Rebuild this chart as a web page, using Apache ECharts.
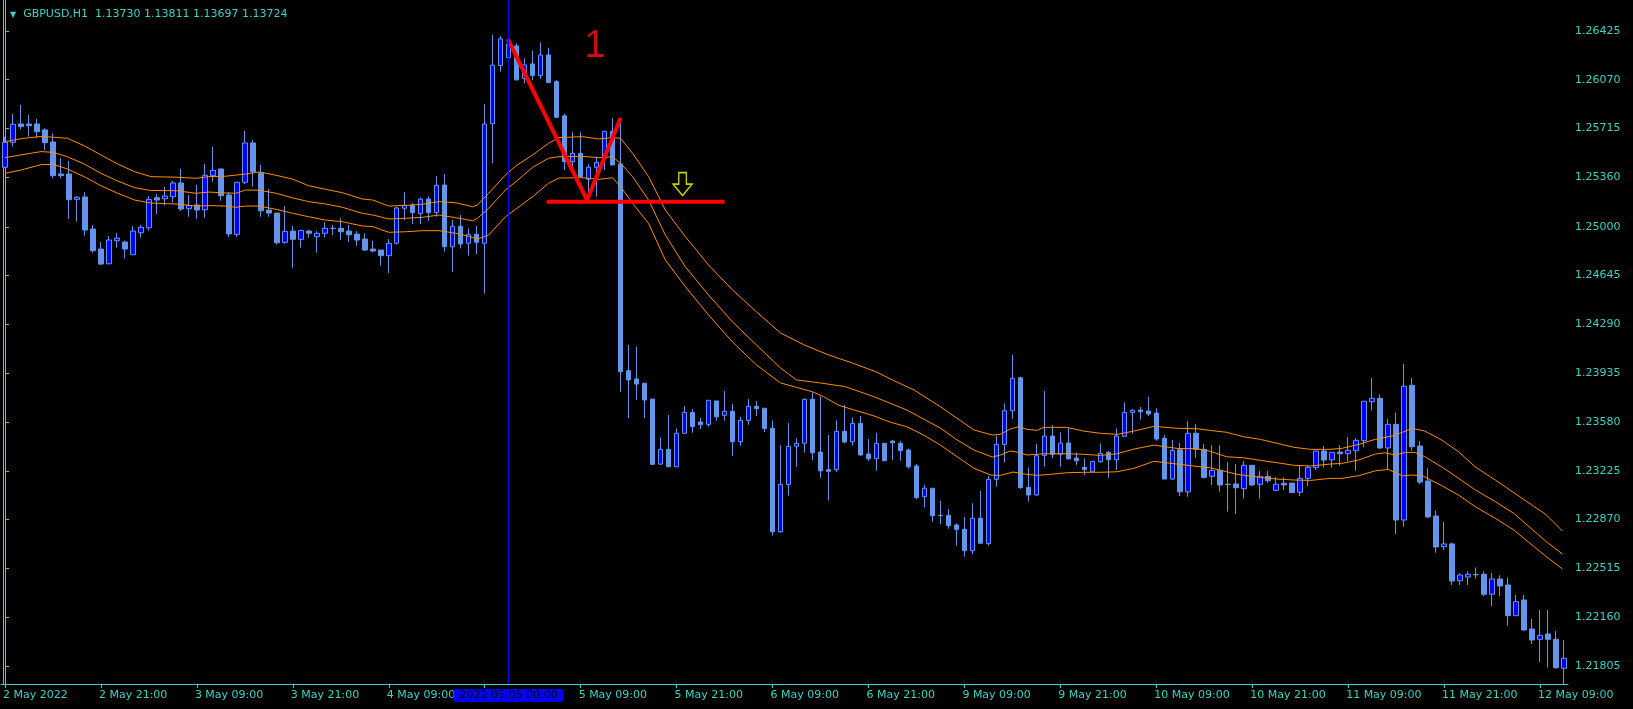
<!DOCTYPE html>
<html><head><meta charset="utf-8">
<script src="https://cdn.jsdelivr.net/npm/echarts@6.0.0/dist/echarts.min.js"></script>
<style>html,body{margin:0;padding:0;background:#000;}#c{width:1633px;height:709px;}</style>
</head><body><div id="c"></div>
<script>
// ---- time axis ----
const dayLabels = ['2 May','3 May','4 May','5 May','6 May','9 May','10 May','11 May','12 May'];
const dayStamps = ['2022.05.02','2022.05.03','2022.05.04','2022.05.05','2022.05.06','2022.05.09','2022.05.10','2022.05.11','2022.05.12'];
const firstHour = 9, lastHour = 12;
const firstLabel = '2 May 2022';
const crossIndex = 63;

// ---- candles (GBPUSD H1) ----
const openP = [1.25433,1.25615,1.25748,1.25748,1.25748,1.25705,1.25617,1.25384,1.25384,1.25200,1.25217,1.24984,1.24838,1.24731,1.24899,1.24889,1.24797,1.24957,1.24993,1.25212,1.25204,1.25219,1.25319,1.25132,1.25159,1.25124,1.25372,1.25421,1.25231,1.24945,1.25324,1.25610,1.25392,1.25122,1.25100,1.24887,1.24969,1.24909,1.24969,1.24928,1.24953,1.24989,1.24989,1.24969,1.24947,1.24911,1.24838,1.24831,1.24790,1.24880,1.25135,1.25156,1.25096,1.25202,1.25103,1.25304,1.24855,1.25004,1.24880,1.24945,1.24880,1.25750,1.26173,1.26231,1.26316,1.26081,1.26185,1.26100,1.26250,1.26056,1.25807,1.25474,1.25535,1.25346,1.25433,1.25499,1.25695,1.25457,1.23953,1.23893,1.23862,1.23747,1.23274,1.23381,1.23254,1.23498,1.23650,1.23580,1.23563,1.23733,1.23629,1.23658,1.23436,1.23592,1.23694,1.23680,1.23534,1.22782,1.23126,1.23403,1.23425,1.23745,1.23361,1.23233,1.23233,1.23512,1.23436,1.23570,1.23347,1.23313,1.23425,1.23441,1.23425,1.23376,1.23260,1.23037,1.23098,1.22901,1.22901,1.22831,1.22799,1.22644,1.22880,1.22695,1.23163,1.23417,1.23662,1.23902,1.23105,1.23049,1.23337,1.23478,1.23345,1.23427,1.23318,1.23250,1.23218,1.23291,1.23359,1.23305,1.23476,1.23650,1.23667,1.23660,1.23645,1.23461,1.23165,1.23378,1.23072,1.23498,1.23381,1.23185,1.23228,1.23127,1.23129,1.23095,1.23265,1.23127,1.23185,1.23083,1.23134,1.23136,1.23069,1.23170,1.23248,1.23369,1.23305,1.23361,1.23349,1.23371,1.23444,1.23728,1.23752,1.23391,1.23563,1.22867,1.23847,1.23405,1.23151,1.22896,1.22673,1.22693,1.22425,1.22452,1.22470,1.22472,1.22327,1.22438,1.22394,1.22171,1.22285,1.22074,1.21999,1.22038,1.21999,1.21788];
const closeP = [1.25615,1.25746,1.25729,1.25736,1.25692,1.25612,1.25372,1.25372,1.25197,1.25215,1.24977,1.24826,1.24729,1.24904,1.24918,1.24838,1.24969,1.24996,1.25200,1.25195,1.25224,1.25319,1.25129,1.25156,1.25122,1.25375,1.25411,1.25226,1.24948,1.25324,1.25610,1.25401,1.25117,1.25100,1.24884,1.24967,1.24909,1.24974,1.24953,1.24953,1.24989,1.24988,1.24964,1.24942,1.24904,1.24831,1.24824,1.24790,1.24880,1.25137,1.25156,1.25103,1.25202,1.25103,1.25302,1.24855,1.25004,1.24875,1.24945,1.24887,1.25748,1.26176,1.26367,1.26328,1.26069,1.26178,1.26100,1.26250,1.26049,1.25797,1.25474,1.25535,1.25365,1.25433,1.25469,1.25695,1.25450,1.23946,1.23886,1.23856,1.23740,1.23272,1.23381,1.23254,1.23498,1.23650,1.23546,1.23560,1.23738,1.23618,1.23658,1.23436,1.23592,1.23694,1.23677,1.23532,1.22782,1.23126,1.23403,1.23425,1.23745,1.23356,1.23225,1.23221,1.23512,1.23434,1.23570,1.23340,1.23313,1.23425,1.23298,1.23429,1.23371,1.23254,1.23030,1.23098,1.22898,1.22900,1.22826,1.22799,1.22644,1.22880,1.22698,1.23163,1.23417,1.23662,1.23898,1.23103,1.23049,1.23335,1.23478,1.23345,1.23427,1.23311,1.23298,1.23233,1.23294,1.23352,1.23305,1.23478,1.23650,1.23665,1.23655,1.23638,1.23456,1.23165,1.23374,1.23072,1.23498,1.23381,1.23177,1.23228,1.23122,1.23125,1.23102,1.23265,1.23122,1.23185,1.23153,1.23127,1.23122,1.23066,1.23170,1.23250,1.23369,1.23303,1.23359,1.23349,1.23374,1.23447,1.23731,1.23752,1.23391,1.23563,1.22867,1.23840,1.23400,1.23143,1.22889,1.22671,1.22693,1.22423,1.22467,1.22472,1.22469,1.22327,1.22438,1.22387,1.22171,1.22273,1.22067,1.21994,1.22028,1.21999,1.21793,1.21861];
const lowP = [1.25428,1.25583,1.25710,1.25656,1.25646,1.25559,1.25353,1.25353,1.25057,1.25037,1.24935,1.24811,1.24722,1.24728,1.24848,1.24768,1.24795,1.24921,1.24972,1.25093,1.25156,1.25175,1.25115,1.25073,1.25057,1.25066,1.25328,1.25190,1.24926,1.24926,1.25311,1.25292,1.25073,1.25073,1.24872,1.24877,1.24702,1.24848,1.24921,1.24811,1.24923,1.24940,1.24904,1.24889,1.24860,1.24824,1.24814,1.24717,1.24664,1.24872,1.25049,1.25020,1.25020,1.25044,1.25073,1.24819,1.24673,1.24843,1.24790,1.24802,1.24514,1.25462,1.26129,1.26214,1.26064,1.26044,1.26069,1.26076,1.26049,1.25790,1.25413,1.25413,1.25365,1.25219,1.25219,1.25413,1.25450,1.23800,1.23607,1.23740,1.23607,1.23267,1.23267,1.23254,1.23254,1.23498,1.23502,1.23529,1.23546,1.23589,1.23589,1.23332,1.23407,1.23560,1.23624,1.23507,1.22753,1.22775,1.23044,1.23253,1.23356,1.23303,1.23174,1.23008,1.23216,1.23425,1.23410,1.23335,1.23296,1.23225,1.23298,1.23303,1.23298,1.23240,1.23018,1.22957,1.22855,1.22838,1.22804,1.22680,1.22600,1.22618,1.22698,1.22680,1.23109,1.23285,1.23602,1.23093,1.23001,1.23044,1.23254,1.23316,1.23254,1.23311,1.23267,1.23194,1.23218,1.23284,1.23174,1.23231,1.23476,1.23495,1.23597,1.23624,1.23443,1.23165,1.23158,1.23041,1.23036,1.23320,1.23170,1.23122,1.23073,1.22928,1.22911,1.23022,1.23115,1.23022,1.23138,1.23076,1.23085,1.23066,1.23041,1.23115,1.23231,1.23248,1.23248,1.23262,1.23296,1.23225,1.23396,1.23662,1.23383,1.23238,1.22765,1.22819,1.23371,1.23129,1.22882,1.22629,1.22649,1.22394,1.22394,1.22394,1.22441,1.22314,1.22241,1.22314,1.22098,1.22171,1.22062,1.21965,1.21834,1.21793,1.21785,1.21667];
const highP = [1.25654,1.25821,1.25887,1.25814,1.25785,1.25717,1.25681,1.25499,1.25479,1.25224,1.25251,1.25013,1.24889,1.24933,1.24955,1.24899,1.25006,1.25013,1.25224,1.25239,1.25290,1.25333,1.25421,1.25231,1.25304,1.25457,1.25581,1.25421,1.25255,1.25324,1.25697,1.25632,1.25450,1.25275,1.25100,1.25151,1.25006,1.24974,1.24979,1.24969,1.25033,1.25013,1.25062,1.25013,1.24969,1.24953,1.24897,1.24831,1.24911,1.25146,1.25253,1.25175,1.25212,1.25222,1.25370,1.25384,1.25049,1.25086,1.24989,1.25006,1.25894,1.26396,1.26389,1.26352,1.26334,1.26226,1.26281,1.26342,1.26303,1.26069,1.25821,1.25688,1.25688,1.25455,1.25510,1.25695,1.25790,1.25753,1.24140,1.24128,1.23862,1.23747,1.23468,1.23631,1.23534,1.23696,1.23674,1.23611,1.23738,1.23733,1.23806,1.23711,1.23618,1.23747,1.23733,1.23680,1.23592,1.23412,1.23573,1.23461,1.23752,1.23796,1.23764,1.23485,1.23592,1.23704,1.23614,1.23624,1.23456,1.23502,1.23425,1.23449,1.23441,1.23388,1.23274,1.23122,1.23098,1.23006,1.22947,1.22843,1.22889,1.22989,1.23078,1.23189,1.23480,1.23716,1.24068,1.23910,1.23250,1.23420,1.23806,1.23558,1.23505,1.23539,1.23359,1.23316,1.23298,1.23425,1.23369,1.23534,1.23723,1.23674,1.23689,1.23764,1.23680,1.23485,1.23449,1.23427,1.23587,1.23565,1.23420,1.23412,1.23412,1.23289,1.23274,1.23298,1.23265,1.23224,1.23224,1.23180,1.23177,1.23136,1.23265,1.23265,1.23369,1.23405,1.23359,1.23412,1.23471,1.23461,1.23731,1.23900,1.23781,1.23602,1.23650,1.24002,1.23900,1.23441,1.23243,1.22935,1.22853,1.22702,1.22479,1.22494,1.22522,1.22494,1.22482,1.22465,1.22450,1.22321,1.22321,1.22147,1.22212,1.22212,1.22060,1.21994];

// ---- price axis ----
const yTicks = [1.26425,1.26070,1.25715,1.25360,1.25000,1.24645,1.24290,1.23935,1.23580,1.23225,1.22870,1.22515,1.22160,1.21805];
const Y_MIN = 1.21674, Y_MAX = 1.26650;

const uIdx = [0,2,4.5,6,7.8,9.9,12,14.1,16.2,18.25,21.4,23.9,25.5,27.6,30.1,31.8,33.9,36,38,40.1,42.2,44.7,46,48,50.1,52.2,54.3,56.4,58.5,59.1,60.5,62.6,63.9,66,68,69.3,72.2,74.3,76,77,78.5,80.5,82.6,85.1,88,91,94,97,100,103,106,109,111,113.7,117,121.2,123.5,124.5,125.75,126.8,127.8,129.1,129.9,132.8,134.9,137,139.1,141.2,143.7,146.6,149.1,150.75,152.8,154.9,157,159.1,161.2,163.3,165.75,167.2,169.3,171.4,173.5,174.8,176,177.6,179.7,181.8,183.9,186.4,192.8,194.8];
const uVal = [1.25619,1.25641,1.25657,1.25652,1.25644,1.25590,1.25523,1.25457,1.25401,1.25365,1.25361,1.25353,1.25365,1.25368,1.25384,1.25399,1.25375,1.25346,1.25299,1.25273,1.25248,1.25202,1.25195,1.25151,1.25156,1.25164,1.25183,1.25175,1.25146,1.25159,1.25244,1.25377,1.25443,1.25523,1.25608,1.25649,1.25656,1.25639,1.25649,1.25644,1.25535,1.25365,1.25122,1.24928,1.24722,1.24541,1.24381,1.24228,1.24140,1.24068,1.24009,1.23944,1.23886,1.23813,1.23691,1.23522,1.23485,1.23490,1.23529,1.23546,1.23527,1.23519,1.23541,1.23541,1.23514,1.23498,1.23490,1.23514,1.23548,1.23534,1.23531,1.23519,1.23505,1.23473,1.23454,1.23425,1.23396,1.23381,1.23381,1.23388,1.23417,1.23454,1.23478,1.23505,1.23534,1.23514,1.23449,1.23364,1.23254,1.23158,1.22904,1.22787];
const mIdx = [0,2,4.5,6,7.8,9.9,12,14.1,16.2,18.25,21.4,23.9,25.5,27.6,28.9,30.1,31.8,33.9,36,38,40.1,42.2,44.7,46,48,50.1,52.2,54.3,56.4,58.5,59.1,60.5,62.6,63.9,66,68,69.3,72.2,74.3,76,77,78.5,80.5,82.6,85.1,88,91,94,97,99,102,105.1,108.7,112.8,117,119.1,121.2,123.5,124.5,125.75,126.8,127.8,129.9,132.8,134.9,137,139.1,141.2,143.7,146.6,149.1,150.75,152.8,154.9,157,159.1,161.2,163.3,165.75,167.2,169.3,171.4,172.6,173.9,175.2,176.4,177.6,179.7,181.8,183.9,186.4,188.7,192.8,194.8];
const mVal = [1.25503,1.25523,1.25547,1.25542,1.25510,1.25457,1.25389,1.25333,1.25285,1.25264,1.25263,1.25244,1.25253,1.25246,1.25244,1.25268,1.25266,1.25244,1.25210,1.25183,1.25166,1.25142,1.25098,1.25086,1.25057,1.25062,1.25069,1.25086,1.25066,1.25044,1.25062,1.25135,1.25268,1.25328,1.25433,1.25499,1.25510,1.25513,1.25503,1.25510,1.25462,1.25365,1.25195,1.24940,1.24709,1.24504,1.24308,1.24140,1.23973,1.23886,1.23864,1.23837,1.23764,1.23667,1.23536,1.23449,1.23376,1.23325,1.23340,1.23369,1.23359,1.23340,1.23349,1.23349,1.23345,1.23337,1.23349,1.23383,1.23412,1.23388,1.23385,1.23367,1.23327,1.23320,1.23301,1.23284,1.23265,1.23260,1.23274,1.23279,1.23303,1.23347,1.23356,1.23340,1.23359,1.23359,1.23327,1.23254,1.23171,1.23086,1.23001,1.22916,1.22709,1.22620];
const lIdx = [0,2,4.5,6,7.8,9.9,12,14.1,16.2,18.25,21.4,23.9,25.5,27.6,28.9,30.1,31.8,33.9,36,38,40.1,42.2,44.7,46,48,50.1,52.2,54.3,56.4,58.5,59.1,60.5,62.6,63.9,66,68,69.3,72.2,74.3,76,77,78.5,80.5,82.6,85.1,88,91,94,97,101,102.4,104.3,108.7,110.75,112.8,114.9,117,119.1,121.2,123.3,124.5,126.1,127.8,129.1,130.75,132.8,134.9,137,139.1,141.2,143.7,146.6,149.1,150.75,152.8,154.1,157,159.1,161.2,163.3,165.75,167.2,169.3,171.4,173,174.8,176,177.3,179.7,181.8,183.9,186.4,188.7,192.8,194.8];
const lVal = [1.25389,1.25413,1.25452,1.25455,1.25421,1.25365,1.25299,1.25244,1.25195,1.25173,1.25166,1.25151,1.25154,1.25151,1.25142,1.25151,1.25151,1.25127,1.25098,1.25073,1.25049,1.25037,1.25006,1.25001,1.24960,1.24964,1.24972,1.24972,1.24953,1.24923,1.24911,1.24940,1.25073,1.25129,1.25219,1.25317,1.25355,1.25357,1.25346,1.25357,1.25292,1.25171,1.25025,1.24758,1.24565,1.24359,1.24162,1.23995,1.23864,1.23800,1.23764,1.23701,1.23624,1.23578,1.23546,1.23485,1.23412,1.23327,1.23243,1.23194,1.23192,1.23216,1.23199,1.23192,1.23199,1.23211,1.23214,1.23214,1.23218,1.23243,1.23294,1.23274,1.23257,1.23247,1.23218,1.23199,1.23177,1.23165,1.23158,1.23155,1.23170,1.23170,1.23189,1.23225,1.23235,1.23189,1.23194,1.23189,1.23117,1.23049,1.22964,1.22880,1.22795,1.22600,1.22511];

// ---- drawn annotations (bar index, price) ----
const vIdx = [62.9, 72.8, 77.0];
const vVal = [1.26366, 1.25195, 1.25792];
const hIdx = [67.75, 90.0];
const hVal = [1.25183, 1.25183];
const arrowIdx = [84.75];
const arrowVal = [1.25311];
const noteIdx = [73.8];
const noteVal = [1.26314];
const noteText = '1';
const titleText = 'GBPUSD,H1  1.13730 1.13811 1.13697 1.13724';

// ---- build ----
const categories = [], stamps = [];
dayLabels.forEach((d, k) => {
  const h0 = k === 0 ? firstHour : 0;
  const h1 = k === dayLabels.length - 1 ? lastHour : 23;
  for (let h = h0; h <= h1; h++) {
    const hh = String(h).padStart(2, '0') + ':00';
    categories.push(d + ' ' + hh);
    stamps.push(dayStamps[k] + ' ' + hh);
  }
});
const candles = openP.map((o, i) => [o, closeP[i], lowP[i], highP[i]]);
const pairs = (xs, ys) => xs.map((x, i) => [x, ys[i]]);
const N = categories.length;

const CY = '#3fd2c6';
const FONT = 'DejaVu Sans';
const tickEvery = 12;

const chart = echarts.init(document.getElementById('c'), null, {renderer: 'canvas'});
chart.setOption({
  backgroundColor: '#000000',
  animation: false,
  title: {
    text: '{t|▼}  ' + titleText,
    left: 5, top: 4,
    textStyle: {color: CY, fontSize: 11, fontFamily: FONT, fontWeight: 'normal',
      rich: {t: {fontSize: 8, color: CY, fontFamily: FONT}}}
  },
  grid: {left: 0, top: 0, width: 1568, height: 684},
  xAxis: [{
    type: 'category', data: categories, boundaryGap: true,
    axisLine: {show: true, lineStyle: {color: CY, width: 1}},
    axisTick: {show: true, alignWithLabel: true, length: 4, interval: (i) => i % tickEvery === 0, lineStyle: {color: CY}},
    axisLabel: {
      interval: (i) => i % tickEvery === 0,
      formatter: (v, i) => i === 0 ? firstLabel : v,
      color: CY, fontSize: 11, fontFamily: FONT, align: 'left', margin: 6, padding: [0, 0, 0, -2]
    },
    splitLine: {show: false},
    axisPointer: {
      show: true, type: 'line', value: crossIndex, status: 'show', snap: false, triggerTooltip: false,
      lineStyle: {color: '#0000ff', width: 1, type: 'solid'},
      label: {show: true, formatter: () => stamps[crossIndex], backgroundColor: '#0000ff', color: '#000000',
        fontFamily: FONT, fontSize: 11, padding: [1, 6, 1, 6], margin: 5, borderWidth: 0, shadowBlur: 0},
      handle: {show: false}
    }
  }, {
    type: 'value', min: -0.5, max: N - 0.5, show: false
  }],
  yAxis: [{
    type: 'value', position: 'right', min: Y_MIN, max: Y_MAX,
    axisLine: {show: true, lineStyle: {color: CY}},
    axisTick: {show: true, customValues: yTicks, length: 4, lineStyle: {color: CY}},
    axisLabel: {customValues: yTicks, formatter: (v) => v.toFixed(5), color: CY, fontSize: 11, fontFamily: FONT, margin: 7},
    splitLine: {show: false}
  }, {
    type: 'value', position: 'left', min: Y_MIN, max: Y_MAX, offset: -2,
    axisLine: {show: true, lineStyle: {color: CY}},
    axisTick: {show: false}, axisLabel: {show: false}, splitLine: {show: false}
  }],
  series: [{
    type: 'candlestick', name: 'GBPUSD', data: candles, xAxisIndex: 0, yAxisIndex: 0,
    barWidth: 5,
    itemStyle: {color: '#0000ff', color0: '#6495ed', borderColor: '#6495ed', borderColor0: '#6495ed', borderWidth: 1}
  }, {
    type: 'line', name: 'upper', data: pairs(uIdx, uVal), xAxisIndex: 1, yAxisIndex: 0,
    symbol: 'none', lineStyle: {color: '#ff8c00', width: 1}, silent: true
  }, {
    type: 'line', name: 'middle', data: pairs(mIdx, mVal), xAxisIndex: 1, yAxisIndex: 0,
    symbol: 'none', lineStyle: {color: '#ff8c00', width: 1}, silent: true
  }, {
    type: 'line', name: 'lower', data: pairs(lIdx, lVal), xAxisIndex: 1, yAxisIndex: 0,
    symbol: 'none', lineStyle: {color: '#ff8c00', width: 1}, silent: true
  }, {
    type: 'line', name: 'pattern', data: pairs(vIdx, vVal), xAxisIndex: 1, yAxisIndex: 0,
    symbol: 'none', lineStyle: {color: '#ff0000', width: 4}, silent: true, z: 5
  }, {
    type: 'line', name: 'level', data: pairs(hIdx, hVal), xAxisIndex: 1, yAxisIndex: 0,
    symbol: 'none', lineStyle: {color: '#ff0000', width: 4}, silent: true, z: 5
  }, {
    type: 'scatter', name: 'arrow', data: pairs(arrowIdx, arrowVal), xAxisIndex: 1, yAxisIndex: 0,
    symbol: 'path://M6 0 L14 0 L14 12 L20 12 L10 24 L0 12 L6 12 Z', symbolSize: [19, 23],
    itemStyle: {color: '#000000', borderColor: '#ffff00', borderWidth: 1.5}, silent: true, z: 6
  }, {
    type: 'scatter', name: 'note', data: pairs(noteIdx, noteVal), xAxisIndex: 1, yAxisIndex: 0,
    symbolSize: 1, itemStyle: {color: 'rgba(0,0,0,0)'}, silent: true, z: 6,
    label: {show: true, position: 'inside', formatter: noteText, color: '#ff1010', fontSize: 38, fontFamily: 'Liberation Sans'}
  }]
});
</script>
</body></html>
